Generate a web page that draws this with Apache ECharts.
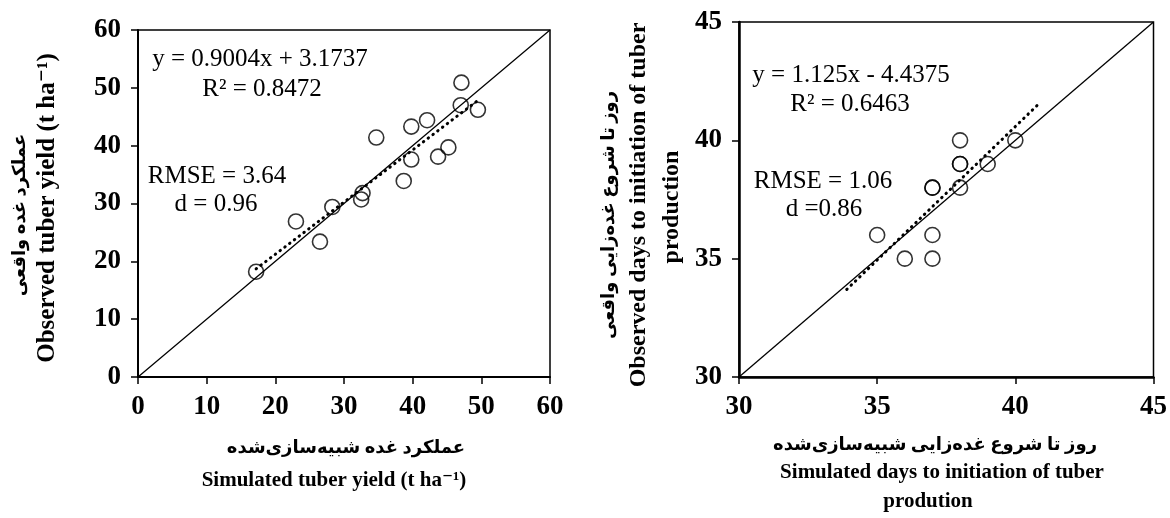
<!DOCTYPE html>
<html>
<head>
<meta charset="utf-8">
<script src="https://cdn.jsdelivr.net/npm/echarts@6/dist/echarts.min.js"></script>
<style>html,body{margin:0;padding:0;background:#fff}#c{width:1170px;height:518px}</style>
</head>
<body>
<div id="c"></div>
<script>
// ---- Left panel: tuber yield (t ha-1)
const yieldTicks = [0, 10, 20, 30, 40, 50, 60];
const yieldSim = [17.2, 23.0, 26.5, 28.3, 32.7, 32.5, 34.7, 38.7, 39.8, 39.8, 42.1, 43.7, 45.2, 47.1, 47.0, 49.5];
const yieldObs = [18.2, 26.9, 23.4, 29.4, 31.8, 30.7, 41.4, 33.9, 37.6, 43.3, 44.4, 38.1, 39.7, 50.9, 47.0, 46.2];
const yieldTrendSim = [17.2, 49.8];
const yieldTrendObs = [18.7, 48.1];
const yieldOneToOne = [0, 60];

// ---- Right panel: days to initiation of tuber production
const daysTicks = [30, 35, 40, 45];
const daysSim = [35, 36, 37, 37, 37, 37, 38, 38, 38, 38, 39, 40];
const daysObs = [36, 35, 36, 35, 38, 38, 40, 39, 39, 38, 39, 40];
const daysTrendSim = [33.9, 40.9];
const daysTrendObs = [33.7, 41.6];
const daysOneToOne = [30, 45];

const leftNotes = ['y = 0.9004x + 3.1737', 'R² = 0.8472', 'RMSE = 3.64', 'd = 0.96'];
const rightNotes = ['y = 1.125x - 4.4375', 'R² = 0.6463', 'RMSE = 1.06', 'd =0.86'];

const pairs = (a, b) => a.map((v, i) => [v, b[i]]);
const SERIF = '"Liberation Serif","Times New Roman","DejaVu Serif",serif';
const FA = '"Liberation Serif","DejaVu Sans",sans-serif';

function axis(gi, min, max, interval, lw) {
  return {
    gridIndex: gi, type: 'value', min, max, interval,
    axisLine: {show: true, onZero: false, lineStyle: {color: '#000', width: lw}},
    axisTick: {show: true, inside: false, length: 7, lineStyle: {color: '#000', width: 1.5}},
    axisLabel: {color: '#000', fontFamily: SERIF, fontWeight: 'bold', fontSize: 27, margin: 17},
    splitLine: {show: false}
  };
}
const circ = {color: 'rgba(0,0,0,0)', borderColor: '#000', borderWidth: 1.6};
const dotted = {color: '#000', width: 3, type: [0.5, 5.5], cap: 'round'};
const chart = echarts.init(document.getElementById('c'), null, {renderer: 'canvas'});

function txt(x, y, text, font, rot) {
  return {type: 'text', x, y, rotation: rot || 0, silent: true,
    style: {text, font, fill: '#000', textAlign: 'center', textVerticalAlign: 'middle', verticalAlign: 'middle'}};
}
const noteFont = '25px ' + SERIF;
const titleFont = 'bold 21px ' + SERIF;
const faFont = 'bold 18px ' + FA;
const faFontV = 'bold 18px ' + FA;

chart.setOption({
  animation: false,
  backgroundColor: '#fff',
  grid: [
    {left: 138, right: 620, top: 30, bottom: 141, show: true, borderColor: '#000', borderWidth: 1.5, backgroundColor: 'transparent'},
    {left: 739, right: 14, top: 22, bottom: 141, show: true, borderColor: '#000', borderWidth: 1.5, backgroundColor: 'transparent'}
  ],
  xAxis: [axis(0, yieldTicks[0], yieldTicks[yieldTicks.length - 1], 10, 2), axis(1, daysTicks[0], daysTicks[daysTicks.length - 1], 5, 2.5)],
  yAxis: [axis(0, yieldTicks[0], yieldTicks[yieldTicks.length - 1], 10, 2), axis(1, daysTicks[0], daysTicks[daysTicks.length - 1], 5, 2.5)],
  series: [
    {type: 'line', xAxisIndex: 0, yAxisIndex: 0, data: pairs(yieldOneToOne, yieldOneToOne), showSymbol: false, symbol: 'none',
      lineStyle: {color: '#000', width: 1.3}, z: 2},
    {type: 'line', xAxisIndex: 0, yAxisIndex: 0, data: pairs(yieldTrendSim, yieldTrendObs), showSymbol: false, symbol: 'none',
      lineStyle: dotted, z: 3},
    {type: 'scatter', xAxisIndex: 0, yAxisIndex: 0, data: pairs(yieldSim, yieldObs), symbol: 'circle', symbolSize: 15, itemStyle: circ, z: 4},
    {type: 'line', xAxisIndex: 1, yAxisIndex: 1, data: pairs(daysOneToOne, daysOneToOne), showSymbol: false, symbol: 'none',
      lineStyle: {color: '#000', width: 1.3}, z: 2},
    {type: 'line', xAxisIndex: 1, yAxisIndex: 1, data: pairs(daysTrendSim, daysTrendObs), showSymbol: false, symbol: 'none',
      lineStyle: dotted, z: 3},
    {type: 'scatter', xAxisIndex: 1, yAxisIndex: 1, data: pairs(daysSim, daysObs), symbol: 'circle', symbolSize: 15, itemStyle: circ, z: 4}
  ],
  graphic: [
    txt(260, 59, leftNotes[0], noteFont),
    txt(262, 89, leftNotes[1], noteFont),
    txt(217, 176, leftNotes[2], noteFont),
    txt(216, 204, leftNotes[3], noteFont),
    txt(851, 75, rightNotes[0], noteFont),
    txt(850, 104, rightNotes[1], noteFont),
    txt(823, 181, rightNotes[2], noteFont),
    txt(824, 209, rightNotes[3], noteFont),
    // left axis titles
    txt(346, 448, 'عملکرد غده شبیه‌سازی‌شده', faFont),
    txt(334, 481, 'Simulated tuber yield (t ha⁻¹)', titleFont),
    txt(20, 215, 'عملکرد غده واقعی', faFontV, Math.PI / 2),
    txt(48, 208, 'Observed tuber yield (t ha⁻¹)', 'bold 25px ' + SERIF, Math.PI / 2),
    // right axis titles
    txt(935, 445, 'روز تا شروع غده‌زایی شبیه‌سازی‌شده', faFont),
    txt(942, 473, 'Simulated days to initiation of tuber', titleFont),
    txt(928, 502, 'prodution', titleFont),
    txt(609, 215, 'روز تا شروع غده‌زایی واقعی', faFontV, Math.PI / 2),
    txt(639, 205, 'Observed days to initiation of tuber', 'bold 24px ' + SERIF, Math.PI / 2),
    txt(672, 207, 'production', 'bold 24px ' + SERIF, Math.PI / 2)
  ]
});
</script>
</body>
</html>
